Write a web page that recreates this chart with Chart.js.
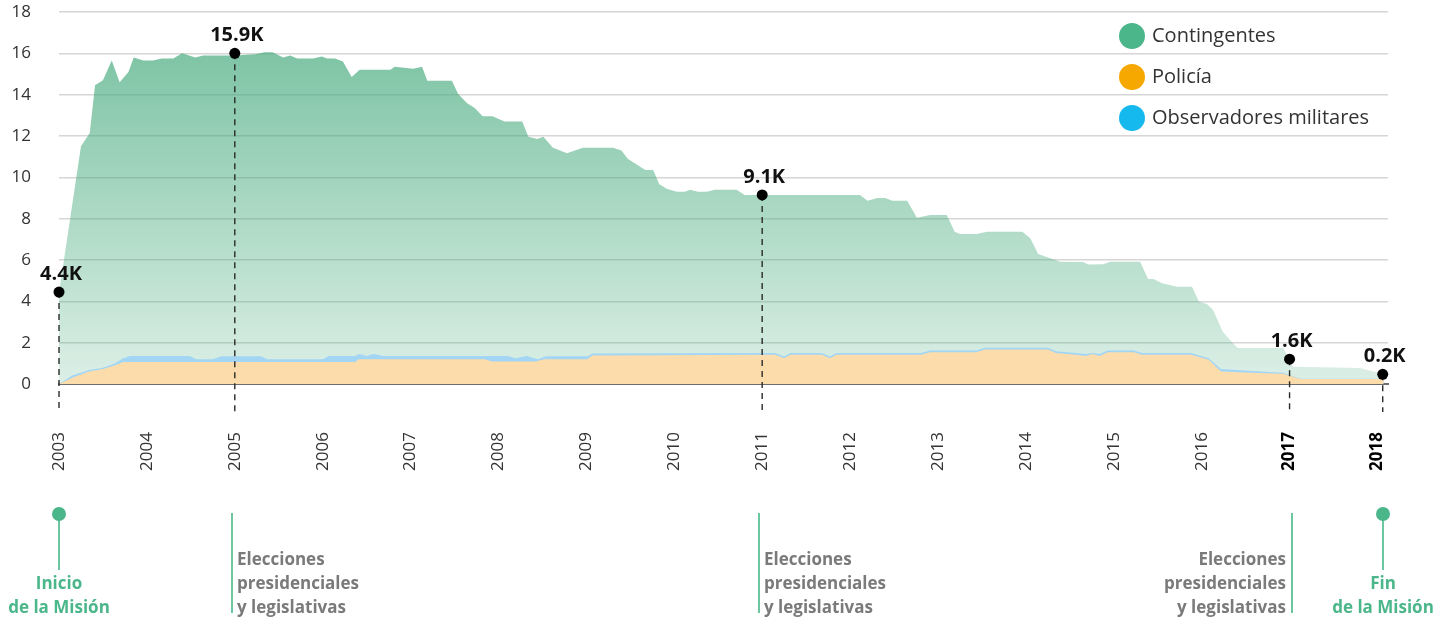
<!DOCTYPE html>
<html lang="es">
<head>
<meta charset="utf-8">
<title>Personal desplegado 2003-2018</title>
<script src="https://cdn.jsdelivr.net/npm/chart.js@4.4.1/dist/chart.umd.min.js"></script>
<style>
  html, body { margin: 0; padding: 0; background: #fff; }
  canvas { display: block; }
</style>
</head>
<body>
<canvas id="chart" width="1451" height="621"></canvas>
<script>
// ------------------------------------------------------------
// Data (thousands of people). Each area is drawn from the origin,
// so every series holds the height of its own top edge.
// ------------------------------------------------------------
const YEARS = [2003, 2004, 2005, 2006, 2007, 2008, 2009, 2010, 2011, 2012, 2013, 2014, 2015, 2016, 2017, 2018];
const Y_TICKS = [0, 2, 4, 6, 8, 10, 12, 14, 16, 18];
const BOLD_YEARS = [2017, 2018];

// Contingentes (green, top edge of the whole stack)
const contingentesFechas = [
  2003.00, 2003.25, 2003.35, 2003.41, 2003.50, 2003.60, 2003.69, 2003.79, 2003.85, 2003.96,
  2004.07, 2004.17, 2004.30, 2004.40, 2004.55, 2004.64, 2005.00, 2005.23, 2005.34, 2005.43,
  2005.55, 2005.63, 2005.71, 2005.89, 2005.99, 2006.05, 2006.14, 2006.23, 2006.33, 2006.42,
  2006.77, 2006.82, 2007.03, 2007.13, 2007.19, 2007.47, 2007.54, 2007.64, 2007.73, 2007.82,
  2007.93, 2008.07, 2008.27, 2008.34, 2008.44, 2008.51, 2008.62, 2008.78, 2008.96, 2009.30,
  2009.40, 2009.47, 2009.67, 2009.76, 2009.83, 2009.92, 2010.03, 2010.12, 2010.18, 2010.27,
  2010.37, 2010.46, 2010.71, 2010.80, 2012.11, 2012.20, 2012.31, 2012.40, 2012.48, 2012.65,
  2012.76, 2012.91, 2013.10, 2013.19, 2013.25, 2013.44, 2013.56, 2013.96, 2014.05, 2014.14,
  2014.27, 2014.39, 2014.65, 2014.71, 2014.88, 2014.96, 2015.30, 2015.39, 2015.45, 2015.55,
  2015.72, 2015.89, 2015.97, 2016.06, 2016.13, 2016.24, 2016.34, 2016.41, 2016.93, 2017.04,
  2017.80, 2017.95, 2018.07
];
const contingentesValores = [
  4.4, 11.5, 12.15, 14.45, 14.7, 15.65, 14.6, 15.1, 15.8, 15.65,
  15.65, 15.75, 15.75, 16.0, 15.8, 15.9, 15.9, 15.95, 16.05, 16.05,
  15.8, 15.9, 15.75, 15.75, 15.85, 15.75, 15.75, 15.6, 14.85, 15.2,
  15.2, 15.35, 15.25, 15.35, 14.67, 14.67, 14.05, 13.6, 13.35, 12.95,
  12.95, 12.7, 12.7, 11.96, 11.85, 11.96, 11.43, 11.17, 11.43, 11.43,
  11.3, 10.9, 10.35, 10.35, 9.67, 9.43, 9.3, 9.3, 9.4, 9.3,
  9.3, 9.4, 9.4, 9.14, 9.14, 8.87, 9.0, 9.0, 8.87, 8.87,
  8.05, 8.18, 8.18, 7.37, 7.26, 7.26, 7.37, 7.37, 7.05, 6.29,
  6.1, 5.92, 5.9, 5.78, 5.8, 5.92, 5.92, 5.08, 5.08, 4.88,
  4.7, 4.7, 3.98, 3.87, 3.58, 2.53, 2.05, 1.74, 1.74, 0.84,
  0.77, 0.6, 0.53
];

// Observadores militares (blue, thin band above the police)
const observadoresFechas = [
  2003.00, 2003.15, 2003.34, 2003.49, 2003.64, 2003.73, 2003.81, 2004.49, 2004.56, 2004.75,
  2004.85, 2005.30, 2005.37, 2006.00, 2006.07, 2006.37, 2006.42, 2006.50, 2006.58, 2006.69,
  2008.10, 2008.20, 2008.32, 2008.45, 2008.54, 2009.01, 2009.07, 2011.15, 2011.25, 2011.32,
  2011.68, 2011.77, 2011.85, 2012.81, 2012.91, 2013.44, 2013.53, 2014.25, 2014.34, 2014.57,
  2014.68, 2014.76, 2014.84, 2014.93, 2015.23, 2015.32, 2015.88, 2016.08, 2016.22, 2016.63,
  2016.93, 2017.12, 2018.07
];
const observadoresValores = [
  0, 0.41, 0.68, 0.78, 1.0, 1.25, 1.35, 1.35, 1.2, 1.2,
  1.34, 1.34, 1.2, 1.2, 1.35, 1.35, 1.45, 1.35, 1.45, 1.35,
  1.35, 1.24, 1.35, 1.2, 1.34, 1.34, 1.48, 1.5, 1.33, 1.5,
  1.5, 1.33, 1.5, 1.5, 1.62, 1.62, 1.75, 1.75, 1.58, 1.5,
  1.45, 1.5, 1.45, 1.62, 1.62, 1.5, 1.5, 1.25, 0.72, 0.62,
  0.55, 0.26, 0.26
];

// Policía (orange, bottom band)
const policiaFechas = [
  2003.00, 2003.15, 2003.34, 2003.49, 2003.64, 2003.73, 2006.37, 2006.41, 2007.84, 2007.93,
  2008.42, 2008.52, 2009.01, 2009.07, 2011.15, 2011.25, 2011.32, 2011.68, 2011.77, 2011.85,
  2012.81, 2012.91, 2013.44, 2013.53, 2014.25, 2014.34, 2014.57, 2014.68, 2014.76, 2014.84,
  2014.93, 2015.23, 2015.32, 2015.88, 2016.08, 2016.22, 2016.63, 2016.93, 2017.12, 2018.07
];
const policiaValores = [
  0, 0.3, 0.6, 0.71, 0.91, 1.07, 1.07, 1.2, 1.2, 1.09,
  1.09, 1.2, 1.2, 1.38, 1.42, 1.25, 1.42, 1.42, 1.25, 1.42,
  1.42, 1.54, 1.54, 1.67, 1.67, 1.5, 1.42, 1.35, 1.45, 1.35,
  1.54, 1.54, 1.42, 1.42, 1.17, 0.6, 0.53, 0.5, 0.24, 0.24
];

// Highlighted moments: dot position and label
const hitoFechas = [2003, 2005, 2011, 2017, 2018.06];
const hitoValores = [4.45, 16.0, 9.15, 1.2, 0.47];
const hitoEtiquetas = ["4.4K", "15.9K", "9.1K", "1.6K", "0.2K"];

// Events written under the axis
const eventoFechas = [2003, 2005, 2011, 2017, 2018.06];
const eventoTipos = ["hito", "eleccion", "eleccion", "eleccion-izq", "hito"];
const eventoTextos = [
  ["Inicio", "de la Misión"],
  ["Elecciones", "presidenciales", "y legislativas"],
  ["Elecciones", "presidenciales", "y legislativas"],
  ["Elecciones", "presidenciales", "y legislativas"],
  ["Fin", "de la Misión"]
];

// Legend
const LEGEND_LABELS = ["Contingentes", "Policía", "Observadores militares"];
const LEGEND_COLORS = ["#4ab68a", "#f6a800", "#16b9ee"];

// ------------------------------------------------------------
// Styling
// ------------------------------------------------------------
const FONT = "'Open Sans', Lato, sans-serif";
const GREEN = "#4ab68a";
const GREEN_LINE = "#6cc6a0";
const EVENT_GRAY = "#7a7a7a";

const toPoints = (xs, ys) => xs.map((x, i) => ({ x, y: ys[i] }));
const tickValue = ctx => (ctx && ctx.tick ? ctx.tick.value : null);
const isBold = ctx => BOLD_YEARS.includes(tickValue(ctx));

// Scales should not push the plot area around: the padding is set by hand
function noPadding(scale) {
  scale.paddingTop = 0;
  scale.paddingBottom = 0;
  scale.paddingLeft = 0;
  scale.paddingRight = 0;
}

// Green fades from strong at the top to almost white at the axis
function greenGradient(context) {
  const { chart } = context;
  const area = chart.chartArea;
  if (!area) return "rgba(72,171,126,0.5)";
  const top = chart.scales.y.getPixelForValue(16);
  const g = chart.ctx.createLinearGradient(0, top, 0, area.bottom);
  g.addColorStop(0, "rgba(72,171,126,0.70)");
  g.addColorStop(1, "rgba(72,171,126,0.19)");
  return g;
}

// Draws the dashed guides, dot labels, legend and the event notes
const notesPlugin = {
  id: "notes",
  beforeDatasetDraw(chart, args) {
    if (args.index !== 3) return;
    const ctx = chart.ctx;
    ctx.save();
    ctx.setLineDash([6, 5]);
    ctx.strokeStyle = "#2a2a2a";
    ctx.lineWidth = 1.4;
    args.meta.data.forEach(p => {
      ctx.beginPath();
      ctx.moveTo(p.x, p.y);
      ctx.lineTo(p.x, 412);
      ctx.stroke();
    });
    ctx.restore();
  },
  afterDatasetsDraw(chart) {
    const ctx = chart.ctx;
    const meta = chart.getDatasetMeta(3);
    ctx.save();
    ctx.font = `bold 20px ${FONT}`;
    ctx.fillStyle = "#111";
    ctx.textAlign = "center";
    ctx.textBaseline = "alphabetic";
    meta.data.forEach((p, i) => {
      ctx.fillText(hitoEtiquetas[i], p.x + 2, p.y - 12);
    });
    ctx.restore();
  },
  afterDraw(chart) {
    const ctx = chart.ctx;
    const xs = chart.scales.x;
    ctx.save();

    // legend (top right)
    ctx.textBaseline = "middle";
    ctx.textAlign = "left";
    ctx.font = `20px ${FONT}`;
    LEGEND_LABELS.forEach((label, i) => {
      const cy = 36 + i * 41;
      ctx.beginPath();
      ctx.arc(1132, cy, 13, 0, Math.PI * 2);
      ctx.fillStyle = LEGEND_COLORS[i];
      ctx.fill();
      ctx.fillStyle = "#333";
      ctx.fillText(label, 1152, cy);
    });

    // events under the axis
    ctx.font = `bold 17px ${FONT}`;
    eventoFechas.forEach((year, i) => {
      const x = Math.round(xs.getPixelForValue(year));
      const tipo = eventoTipos[i];
      const lines = eventoTextos[i];
      ctx.strokeStyle = GREEN_LINE;
      ctx.lineWidth = 2;
      if (tipo === "hito") {
        ctx.beginPath();
        ctx.moveTo(x, 514);
        ctx.lineTo(x, 570);
        ctx.stroke();
        ctx.beginPath();
        ctx.arc(x, 514, 7, 0, Math.PI * 2);
        ctx.fillStyle = GREEN;
        ctx.fill();
        ctx.fillStyle = GREEN;
        ctx.textAlign = "center";
        lines.forEach((t, j) => ctx.fillText(t, x, 584 + j * 24));
      } else {
        const lx = tipo === "eleccion" ? x - 3 : x + 2;
        ctx.beginPath();
        ctx.moveTo(lx, 513);
        ctx.lineTo(lx, 613);
        ctx.stroke();
        ctx.fillStyle = EVENT_GRAY;
        if (tipo === "eleccion") {
          ctx.textAlign = "left";
          lines.forEach((t, j) => ctx.fillText(t, lx + 5, 560 + j * 24));
        } else {
          ctx.textAlign = "right";
          lines.forEach((t, j) => ctx.fillText(t, lx - 6, 560 + j * 24));
        }
      }
    });
    ctx.restore();
  }
};

// ------------------------------------------------------------
// Chart
// ------------------------------------------------------------
new Chart(document.getElementById("chart"), {
  type: "line",
  data: {
    datasets: [
      {
        label: "Policía",
        data: toPoints(policiaFechas, policiaValores),
        fill: "origin",
        backgroundColor: "#fddcab",
        borderWidth: 0,
        borderColor: "rgba(0,0,0,0)",
        pointRadius: 0,
        tension: 0,
        order: 1
      },
      {
        label: "Observadores militares",
        data: toPoints(observadoresFechas, observadoresValores),
        fill: "origin",
        backgroundColor: "#a3d6f5",
        borderWidth: 0,
        borderColor: "rgba(0,0,0,0)",
        pointRadius: 0,
        tension: 0,
        order: 2
      },
      {
        label: "Contingentes",
        data: toPoints(contingentesFechas, contingentesValores),
        fill: "origin",
        backgroundColor: greenGradient,
        borderWidth: 0,
        borderColor: "rgba(0,0,0,0)",
        pointRadius: 0,
        tension: 0,
        order: 3
      },
      {
        type: "scatter",
        label: "Hitos",
        data: toPoints(hitoFechas, hitoValores),
        pointRadius: 5.5,
        pointBackgroundColor: "#000",
        pointBorderWidth: 0,
        clip: false,
        order: 0
      }
    ]
  },
  options: {
    responsive: false,
    animation: false,
    events: [],
    layout: { padding: { top: 12, right: 63, bottom: 0, left: 0 } },
    plugins: {
      legend: { display: false },
      tooltip: { enabled: false }
    },
    scales: {
      x: {
        type: "linear",
        min: 2003,
        max: 2018.12,
        afterBuildTicks: s => { s.ticks = YEARS.map(v => ({ value: v })); },
        afterFit: s => { s.height = 621 - 384; noPadding(s); },
        grid: { display: false, drawTicks: false },
        border: { display: true, color: "#6d6d6d", width: 2 },
        ticks: {
          autoSkip: false,
          minRotation: 90,
          maxRotation: 90,
          padding: 48,
          callback: v => String(v),
          color: ctx => (isBold(ctx) ? "#000" : "#333"),
          font: ctx => ({
            family: FONT,
            size: 17,
            weight: isBold(ctx) ? "bold" : "normal"
          })
        }
      },
      y: {
        min: 0,
        max: 18,
        afterBuildTicks: s => { s.ticks = Y_TICKS.map(v => ({ value: v })); },
        afterFit: s => { s.width = 59; noPadding(s); },
        grid: {
          color: ctx => (tickValue(ctx) === 0 ? "rgba(0,0,0,0)" : "#d6d6d6"),
          lineWidth: 1.5,
          drawTicks: false
        },
        border: { display: false },
        ticks: {
          padding: 28,
          color: "#333",
          font: { family: FONT, size: 17 }
        }
      }
    }
  },
  plugins: [notesPlugin]
});
</script>
</body>
</html>
